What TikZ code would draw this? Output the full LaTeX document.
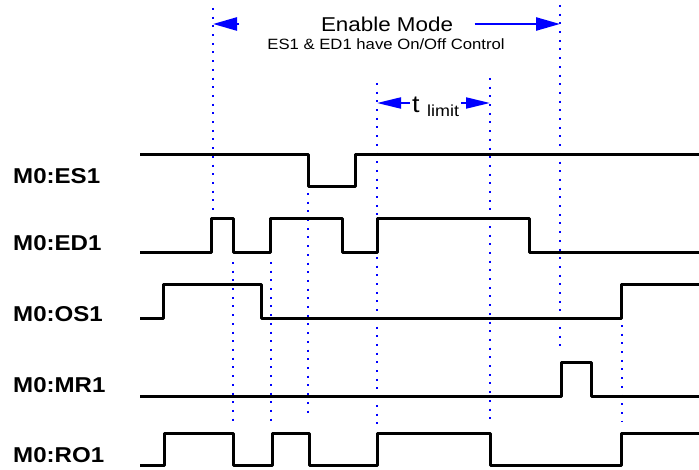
\documentclass[tikz,border=0pt]{standalone}
\usepackage{fontspec}
\setmainfont{Liberation Sans}[FakeStretch=1.12]
\usetikzlibrary{arrows.meta}

\begin{document}
\begin{tikzpicture}[x=1pt, y=-1pt,
    wave/.style={line width=3pt, line join=round},
    guide/.style={blue, line width=2pt, dash pattern=on 2pt off 6.7pt},
    span/.style={blue, line width=2.5pt, -{Triangle[length=24pt, width=13pt]}},
    limit/.style={blue, line width=2pt, -{Triangle[length=24pt, width=11pt]}},
    sig/.style={anchor=west, inner sep=0pt, font=\fontsize{21.5}{24}\selectfont\bfseries}]
    \useasboundingbox (0,0) rectangle (699,470);

    \draw[guide] (213,8) -- (213,212);
    \draw[guide] (233,262) -- (233,424);
    \draw[guide] (271,262) -- (271,424);
    \draw[guide] (308,193) -- (308,416);
    \draw[guide] (377,83) -- (377,425);
    \draw[guide] (490,78) -- (490,422);
    \draw[guide] (560,5) -- (560,350);
    \draw[guide] (622,325) -- (622,422);

    \node[font=\fontsize{20}{22}\selectfont] (mode) at (387,24) {Enable Mode};
    \node[font=\fontsize{14.9}{17}\selectfont] (ctrl) at (386,44) {ES1 \& ED1 have On/Off Control};
    \coordinate (enL) at (213,24);
    \coordinate (enLb) at (239,24);
    \coordinate (enR) at (560,24);
    \draw[span] (enLb) -- (enL);
    \draw[span] ([xshift=18pt]mode.east) -- (enR);

    \node[anchor=base west, inner sep=2pt, font=\fontsize{24}{26}\selectfont] (tlim) at (410,113)
        {t \raisebox{-4pt}{\fontsize{16}{18}\selectfont limit}};
    \coordinate (tL) at (377,103);
    \coordinate (tR) at (490,103);
    \draw[limit] (tlim.west |- tL) -- (tL);
    \draw[limit] (tlim.east |- tR) -- (tR);

    \node[sig] (es1) at (13,176) {M0:ES1};
    \node[sig] (ed1) at (13,243) {M0:ED1};
    \node[sig] (os1) at (13,314) {M0:OS1};
    \node[sig] (mr1) at (13,385) {M0:MR1};
    \node[sig] (ro1) at (13,455) {M0:RO1};

    \draw[wave] (140,155) -- (308,155) -- (308,187) -- (355,187) -- (355,155) -- (699,155);
    \draw[wave] (140,253) -- (211,253) -- (211,219) -- (233,219) -- (233,253) -- (270,253)
        -- (270,219) -- (342,219) -- (342,253) -- (377,253) -- (377,219) -- (529,219)
        -- (529,253) -- (699,253);
    \draw[wave] (140,319) -- (163,319) -- (163,285) -- (261,285) -- (261,319) -- (621,319)
        -- (621,285) -- (699,285);
    \draw[wave] (140,396) -- (561,396) -- (561,363) -- (591,363) -- (591,396) -- (699,396);
    \draw[wave] (140,465) -- (164,465) -- (164,433) -- (233,433) -- (233,465) -- (272,465)
        -- (272,433) -- (309,433) -- (309,465) -- (377,465) -- (377,433) -- (490,433)
        -- (490,465) -- (621,465) -- (621,433) -- (699,433);
\end{tikzpicture}
\end{document}
